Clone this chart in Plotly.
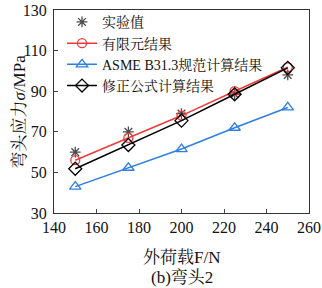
import plotly.graph_objects as go

loads = [150, 175, 200, 225, 250]
exp_vals = [60, 70, 79, 88.5, 98]
fem_vals = [56, 67, 78, 90, 101.8]
asme_vals = [43, 52.3, 61.5, 72, 82]
mod_vals = [51.8, 63.5, 75.5, 88.5, 101.5]
x_ticks = [140, 160, 180, 200, 220, 240, 260]
y_ticks = [30, 50, 70, 90, 110, 130]

FONT = "Liberation Serif, Times New Roman, Noto Serif CJK SC, Noto Sans CJK SC, serif"

fig = go.Figure()
fig.add_trace(go.Scatter(x=loads, y=exp_vals, mode="markers", name="实验值",
                         marker=dict(symbol="asterisk-open", size=9, color="#4d4d4d",
                                     line=dict(width=1.3, color="#4d4d4d"))))
fig.add_trace(go.Scatter(x=loads, y=fem_vals, mode="lines+markers", name="有限元结果",
                         line=dict(color="#f03a3a", width=1.5),
                         marker=dict(symbol="circle-open", size=9, color="#f03a3a",
                                     line=dict(width=1.3))))
fig.add_trace(go.Scatter(x=loads, y=asme_vals, mode="lines+markers", name="ASME B31.3规范计算结果",
                         line=dict(color="#2f7fe0", width=1.5),
                         marker=dict(symbol="triangle-up-open", size=10, color="#2f7fe0",
                                     line=dict(width=1.3))))
fig.add_trace(go.Scatter(x=loads, y=mod_vals, mode="lines+markers", name="修正公式计算结果",
                         line=dict(color="#000000", width=1.5),
                         marker=dict(symbol="diamond-open", size=10, color="#000000",
                                     line=dict(width=1.3))))

fig.update_layout(
    width=322, height=288,
    margin=dict(l=54, r=13, t=10, b=75, autoexpand=False),
    paper_bgcolor="white", plot_bgcolor="white",
    font=dict(family=FONT, size=15, color="#111"),
    showlegend=True,
    legend=dict(x=8/255, y=1.018, xanchor="left", yanchor="top",
                bgcolor="rgba(0,0,0,0)", font=dict(size=14, family=FONT),
                tracegroupgap=0, itemwidth=30),
    xaxis=dict(range=[140, 260], tickvals=x_ticks, ticks="inside", ticklen=4,
               showline=True, linecolor="#333", linewidth=1, mirror=True,
               showgrid=False, zeroline=False, automargin=False,
               ticklabeloverflow="allow",
               tickfont=dict(size=16, family=FONT)),
    yaxis=dict(range=[30, 130], tickvals=y_ticks, ticks="inside", ticklen=4,
               showline=True, linecolor="#333", linewidth=1, mirror=True,
               showgrid=False, zeroline=False, automargin=False,
               ticklabelstandoff=3, ticklabeloverflow="allow",
               tickfont=dict(size=16, family=FONT)),
)
fig.add_annotation(text="弯头应力<i>σ</i>/MPa", xref="paper", yref="paper",
                   x=-35/255, y=0.5, xanchor="center", yanchor="middle",
                   textangle=-90, showarrow=False, font=dict(size=17, family=FONT))
fig.add_annotation(text="外荷载F/N", xref="paper", yref="paper", x=0.5, y=-45/204,
                   xanchor="center", yanchor="middle", showarrow=False,
                   font=dict(size=17, family=FONT))
fig.add_annotation(text="(b)弯头2", xref="paper", yref="paper", x=0.5, y=-65/204,
                   xanchor="center", yanchor="middle", showarrow=False,
                   font=dict(size=17, family=FONT))

fig.write_html("out.html", config={"displayModeBar": False},
               post_script="document.body.style.margin='0';")
